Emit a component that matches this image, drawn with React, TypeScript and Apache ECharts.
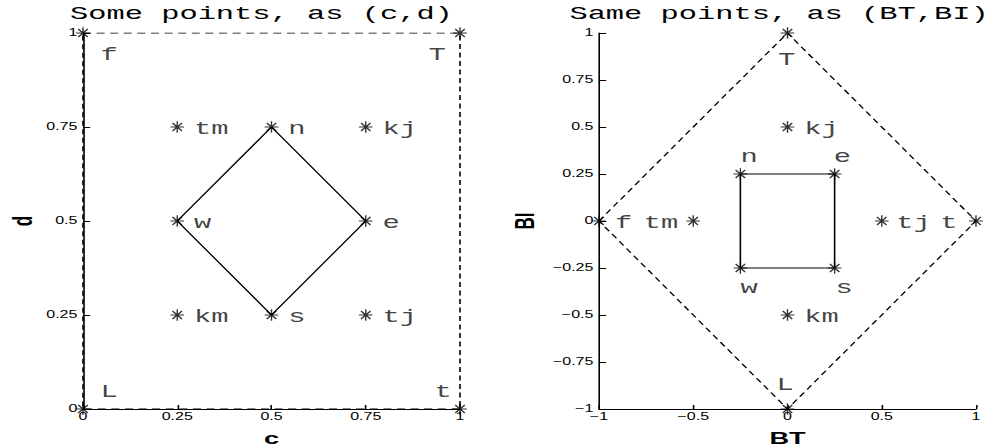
import React, { useEffect, useRef } from "react";
import * as echarts from "echarts";

// ---- data ----
const pointNames = ["f", "T", "L", "t", "tm", "n", "kj", "w", "e", "km", "s", "tj"];
const cValues = [0, 1, 0, 1, 0.25, 0.5, 0.75, 0.25, 0.75, 0.25, 0.5, 0.75];
const dValues = [1, 1, 0, 0, 0.75, 0.75, 0.75, 0.5, 0.5, 0.25, 0.25, 0.25];
const btValues = [-1, 0, 0, 1, -0.5, -0.25, 0, -0.25, 0.25, 0, 0.25, 0.5];
const biValues = [0, 1, -1, 0, 0, 0.25, 0.5, -0.25, 0.25, -0.5, -0.25, 0];

const outerLoop = ["f", "T", "t", "L", "f"];
const innerLoop = ["n", "e", "s", "w", "n"];

const leftTicks = ["0", "0.25", "0.5", "0.75", "1"];
const rightYTicks = ["\u22121", "\u22120.75", "\u22120.5", "\u22120.25", "0", "0.25", "0.5", "0.75", "1"];
const rightXTicks = ["\u22121", "\u22120.5", "0", "0.5", "1"];

const leftTitle = "Some points, as (c,d)";
const rightTitle = "Same points, as (BT,BI)";

// ---- layout / style (unstretched px; whole canvas is scaled 1.6x horizontally) ----
const W = 625;
const H = 448;
const SX = 1.6;
const G1 = { left: 51.875, top: 33, width: 235.625, height: 376 };
const G2 = { left: 374.375, top: 33, width: 235.625, height: 376 };

const MONO = "Liberation Mono";
const SANS = "Liberation Sans";

const STAR = "path://M0,5L10,5M5,0L5,10M1.5,1.5L8.5,8.5M8.5,1.5L1.5,8.5";

type Place = { align: string; dx: number; dy: number };
const REG: Place = { align: "left", dx: 10.5, dy: 2 };
const leftPlace: Record<string, Place> = {
  f: { align: "left", dx: 11, dy: 22.5 },
  T: { align: "left", dx: -19.7, dy: 22.5 },
  L: { align: "left", dx: 11, dy: -16.8 },
  t: { align: "left", dx: -16, dy: -16.8 },
};
const rightPlace: Record<string, Place> = {
  T: { align: "center", dx: -0.5, dy: 27 },
  n: { align: "left", dx: 0, dy: -16.8 },
  e: { align: "left", dx: -0.5, dy: -16.8 },
  w: { align: "left", dx: 0, dy: 20 },
  s: { align: "left", dx: 0.5, dy: 20 },
  f: { align: "left", dx: 10, dy: 2 },
  tm: { align: "right", dx: -9.3, dy: 2 },
  tj: { align: "left", dx: 9, dy: 2 },
  t: { align: "right", dx: -11.6, dy: 2 },
  L: { align: "center", dx: -1.5, dy: -23.8 },
};

function pointsOf(xs: number[], ys: number[], place: Record<string, Place>) {
  return pointNames.map((name, i) => {
    const p = place[name] || REG;
    return {
      name,
      value: [xs[i], ys[i]],
      label: {
        show: true,
        position: "inside",
        align: p.align,
        verticalAlign: "middle",
        offset: [p.dx, p.dy],
      },
    };
  });
}

function loopOf(order: string[], xs: number[], ys: number[]) {
  return order.map((n) => {
    const i = pointNames.indexOf(n);
    return [xs[i], ys[i]];
  });
}

function axisCommon(labels: string[], min: number, interval: number, isY: boolean) {
  return {
    type: "value",
    min,
    max: min + interval * (labels.length - 1),
    interval,
    position: isY ? "left" : "bottom",
    axisLine: { show: true, onZero: false, lineStyle: { color: "#000", width: 1 } },
    axisTick: { show: true, inside: true, length: isY ? 4.5 : 4, lineStyle: { color: "#000", width: 1 } },
    axisLabel: {
      show: true,
      showMinLabel: true,
      showMaxLabel: true,
      margin: isY ? 3.5 : 3,
      color: "#000",
      fontFamily: SANS,
      fontSize: 10,
      formatter: (v: number) => labels[Math.round((v - min) / interval)] ?? "",
    },
    splitLine: { show: false },
  };
}

function lineSeries(data: number[][], ax: number, dashed: boolean) {
  return {
    type: "line",
    xAxisIndex: ax,
    yAxisIndex: ax,
    data,
    symbol: "none",
    silent: true,
    z: 2,
    lineStyle: { color: "#000", width: 1, type: dashed ? [5, 3.5] : "solid" },
  };
}

function scatterSeries(data: any[], ax: number) {
  return {
    type: "scatter",
    xAxisIndex: ax,
    yAxisIndex: ax,
    data,
    symbol: STAR,
    symbolSize: [8.5, 11.5],
    silent: true,
    z: 3,
    itemStyle: { color: "rgba(0,0,0,0)", borderColor: "#000", borderWidth: 1 },
    label: {
      show: true,
      formatter: "{b}",
      color: "#111",
      fontFamily: MONO,
      fontSize: 18,
    },
  };
}

function txt(text: string, x: number, y: number, font: string, rotation = 0) {
  return {
    type: "text",
    x,
    y,
    rotation,
    silent: true,
    style: {
      text,
      x: 0,
      y: 0,
      font,
      fill: "#000",
      align: "center",
      verticalAlign: "middle",
      textAlign: "center",
      textVerticalAlign: "middle",
    },
  };
}

export default function App() {
  const ref = useRef<HTMLDivElement>(null);
  useEffect(() => {
    if (!ref.current) return;
    const chart = echarts.init(ref.current, null, { renderer: "svg", width: W, height: H });
    const axisFont = `bold 17px "${SANS}"`;
    const titleFont = `19px "${MONO}"`;
    chart.setOption({
      animation: false,
      backgroundColor: "#fff",
      grid: [
        { ...G1, containLabel: false },
        { ...G2, containLabel: false },
      ],
      xAxis: [
        { gridIndex: 0, ...axisCommon(leftTicks, 0, 0.25, false) },
        { gridIndex: 1, ...axisCommon(rightXTicks, -1, 0.5, false) },
      ],
      yAxis: [
        { gridIndex: 0, ...axisCommon(leftTicks, 0, 0.25, true) },
        { gridIndex: 1, ...axisCommon(rightYTicks, -1, 0.25, true) },
      ],
      series: [
        lineSeries(loopOf(outerLoop, cValues, dValues), 0, true),
        lineSeries(loopOf(innerLoop, cValues, dValues), 0, false),
        scatterSeries(pointsOf(cValues, dValues, leftPlace), 0),
        lineSeries(loopOf(outerLoop, btValues, biValues), 1, true),
        lineSeries(loopOf(innerLoop, btValues, biValues), 1, false),
        scatterSeries(pointsOf(btValues, biValues, rightPlace), 1),
      ],
      graphic: [
        txt(leftTitle, 163.4, 14.6, titleFont),
        txt(rightTitle, 486.9, 14.6, titleFont),
        txt("c", G1.left + G1.width / 2, 438, axisFont),
        txt("BT", G2.left + G2.width / 2, 438, axisFont),
        txt("d", 13.75, 221, axisFont, Math.PI / 2),
        txt("BI", 328, 221, axisFont, Math.PI / 2),
      ],
    });
    return () => chart.dispose();
  }, []);
  return (
    <div
      style={{
        position: "fixed",
        left: 0,
        top: 0,
        width: 1000,
        height: 448,
        overflow: "hidden",
        background: "#fff",
      }}
    >
      <div
        ref={ref}
        style={{ width: W, height: H, transform: `scaleX(${SX})`, transformOrigin: "0 0" }}
      />
    </div>
  );
}
